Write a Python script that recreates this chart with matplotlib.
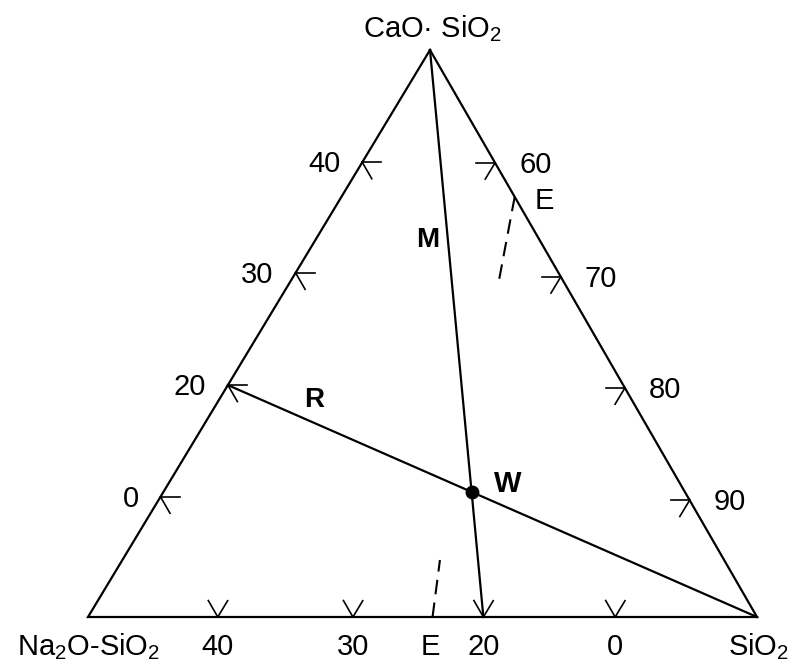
import numpy as np
import matplotlib
matplotlib.use("Agg")
import matplotlib.pyplot as plt

plt.rcParams['font.family'] = ['Liberation Sans', 'DejaVu Sans']
plt.rcParams['mathtext.default'] = 'regular'

# ---- data ----
vertex_labels = ['CaO· SiO$_2$', 'Na$_2$O-SiO$_2$', 'SiO$_2$']   # top, left, right
left_ticks = [0.212, 0.409, 0.607, 0.802]   # Na2O-SiO2 -> CaO.SiO2
left_labels = ['0', '20', '30', '40']
right_ticks = [0.199, 0.400, 0.596, 0.794]  # CaO.SiO2 -> SiO2
right_labels = ['60', '70', '80', '90']
base_ticks = [0.194, 0.396, 0.591, 0.788]   # Na2O-SiO2 -> SiO2
base_labels = ['40', '30', '20', '0']
E_base = 0.515
E_right = 0.26
M_base = 0.591        # M line: apex -> base
R_left = 0.409        # R line: SiO2 vertex -> left edge
# dashed boundary pieces, barycentric (a = CaO.SiO2 fraction, c = SiO2 fraction)
dash_bottom = [(0.0, 0.515), (0.1005, 0.4747)]
dash_top = [(0.741, 0.259), (0.596, 0.31)]

# ---- geometry (layout) ----
TOP = np.array([430.0, 50.0])
LEFT = np.array([88.0, 617.0])
RIGHT = np.array([757.0, 617.0])

def bary(a, c):
    return LEFT + a * (TOP - LEFT) + c * (RIGHT - LEFT)

def unit(v):
    return v / np.linalg.norm(v)

fig = plt.figure(figsize=(7.94, 6.67), dpi=100)
ax = fig.add_axes([0, 0, 1, 1])
ax.set_xlim(0, 794)
ax.set_ylim(667, 0)
ax.axis('off')

LW = 1.6
FS = 21
tri = np.array([TOP, LEFT, RIGHT, TOP])
ax.plot(tri[:, 0], tri[:, 1], color='black', lw=LW, solid_joinstyle='miter')

ARM = 19
def arrowhead(p, d1, d2):
    for d in (d1, d2):
        q = p + ARM * unit(d)
        ax.plot([p[0], q[0]], [p[1], q[1]], color='black', lw=1.2)

# left edge ticks
for f, lab in zip(left_ticks, left_labels):
    p = bary(f, 0.0)
    arrowhead(p, RIGHT - LEFT, RIGHT - TOP)
    ax.text(p[0] - 22, p[1] + 10, lab, ha='right', va='baseline', fontsize=FS)

# right edge ticks
for f, lab in zip(right_ticks, right_labels):
    p = bary(1 - f, f)
    arrowhead(p, LEFT - RIGHT, LEFT - TOP)
    ax.text(p[0] + 24, p[1] + 10, lab, ha='left', va='baseline', fontsize=FS)

# base ticks
for f, lab in zip(base_ticks, base_labels):
    p = bary(0.0, f)
    arrowhead(p, TOP - RIGHT, TOP - LEFT)
    ax.text(p[0], p[1] + 38, lab, ha='center', va='baseline', fontsize=FS)

# E labels
pe = bary(0.0, E_base)
ax.text(pe[0] - 2, pe[1] + 38, 'E', ha='center', va='baseline', fontsize=FS)
pe2 = bary(1 - E_right, E_right)
ax.text(pe2[0] + 20, pe2[1] + 12, 'E', ha='left', va='baseline', fontsize=FS)

# vertex labels
ax.text(TOP[0] + 2, TOP[1] - 13, vertex_labels[0], ha='center', va='baseline', fontsize=FS)
ax.text(LEFT[0] + 1, LEFT[1] + 38, vertex_labels[1], ha='center', va='baseline', fontsize=FS)
ax.text(RIGHT[0] + 2, RIGHT[1] + 38, vertex_labels[2], ha='center', va='baseline', fontsize=FS)

# M and R lines
m0, m1 = bary(1.0, 0.0), bary(0.0, M_base)
r0, r1 = bary(0.0, 1.0), bary(R_left, 0.0)
ax.plot([m0[0], m1[0]], [m0[1], m1[1]], color='black', lw=LW)
ax.plot([r0[0], r1[0]], [r0[1], r1[1]], color='black', lw=LW)

# intersection W
A = np.array([m1 - m0, -(r1 - r0)]).T
t, s = np.linalg.solve(A, r0 - m0)
W = m0 + t * (m1 - m0)
ax.plot([W[0]], [W[1]], 'o', color='black', ms=9)
ax.text(W[0] + 22, W[1], 'W', ha='left', va='baseline', fontsize=FS, fontweight='bold')

pm = m0 + 0.33 * (m1 - m0)
ax.text(pm[0] - 8, pm[1] + 10, 'M', ha='right', va='baseline', fontsize=FS - 1, fontweight='bold')
pr = r1 + 0.1635 * (r0 - r1)
ax.text(pr[0], pr[1] - 16, 'R', ha='center', va='baseline', fontsize=FS - 1, fontweight='bold')

# dashed boundary curves
for seg in (dash_bottom, dash_top):
    pts = np.array([bary(a, c) for a, c in seg])
    ax.plot(pts[:, 0], pts[:, 1], color='black', lw=1.5, linestyle=(0, (7, 4)))

fig.savefig('out.png', dpi=100)
